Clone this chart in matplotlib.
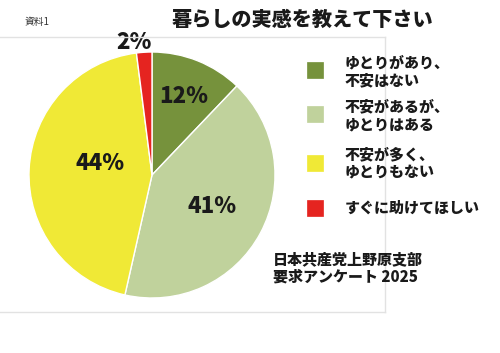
import numpy as np
import matplotlib
matplotlib.use("Agg")
import matplotlib.pyplot as plt
from matplotlib.lines import Line2D
from matplotlib.patches import Rectangle

plt.rcParams['font.family'] = ['Noto Sans CJK JP', 'DejaVu Sans']

# Data
labels = ["ゆとりがあり、\n不安はない", "不安があるが、\nゆとりはある",
          "不安が多く、\nゆとりもない", "すぐに助けてほしい"]
values = [12, 41, 44, 2]
pct_text = ["12%", "41%", "44%", "2%"]
colors = ["#76923c", "#c0d29c", "#f0e936", "#e52420"]

W, H = 500, 353
fig = plt.figure(figsize=(W / 100, H / 100), dpi=100)
fig.patch.set_facecolor("white")


def fx(px):
    return px / W


def fy(py):
    return 1 - py / H


# faint frame around the chart area
frame_kw = dict(color="#e2e2e2", lw=1, transform=fig.transFigure)
fig.add_artist(Line2D([fx(0), fx(385)], [fy(37), fy(37)], **frame_kw))
fig.add_artist(Line2D([fx(385), fx(385)], [fy(37), fy(312)], **frame_kw))
fig.add_artist(Line2D([fx(0), fx(385)], [fy(312), fy(312)], **frame_kw))

# pie
cx, cy, r = 152, 175, 123
ax = fig.add_axes([fx(cx - r), fy(cy + r), 2 * r / W, 2 * r / H])
wedges, _ = ax.pie(values, colors=colors, startangle=90, counterclock=False,
                   wedgeprops=dict(edgecolor="white", linewidth=1))
ax.set_xlim(-1, 1)
ax.set_ylim(-1, 1)
ax.set_aspect("equal")
ax.axis("off")

# percentage labels at each wedge's middle angle
dists = [0.69, 0.55, 0.43, 1.09]
shift = [0, 0, -10, 4]
for w, t, d, s in zip(wedges, pct_text, dists, shift):
    ang = np.deg2rad((w.theta1 + w.theta2) / 2 + s)
    ax.text(d * np.cos(ang), d * np.sin(ang), t, ha="center", va="center",
            fontsize=16, fontweight="heavy", color="#1a1a1a", clip_on=False)

# title and note
fig.text(fx(302), fy(20), "暮らしの実感を教えて下さい", ha="center", va="center",
         fontsize=14.5, fontweight="heavy", color="#1a1a1a")
fig.text(fx(25), fy(22), "資料1", ha="left", va="center", fontsize=7,
         color="#333333")

# legend
sq_y = [70, 114, 163, 208]
txt_y = [72, 116, 164, 208]
for c, lab, sy, ty in zip(colors, labels, sq_y, txt_y):
    fig.add_artist(Rectangle((fx(307), fy(sy + 8)), 16 / W, 16 / H,
                             facecolor=c, edgecolor=c, lw=0.5,
                             transform=fig.transFigure))
    fig.text(fx(345), fy(ty), lab, ha="left", va="center", fontsize=10.8,
             fontweight="heavy", color="#1a1a1a", linespacing=1.25)

# source
fig.text(fx(273), fy(268), "日本共産党上野原支部\n要求アンケート 2025", ha="left",
         va="center", fontsize=10.8, fontweight="heavy", color="#1a1a1a",
         linespacing=1.2)

fig.savefig("out.png", dpi=100)
